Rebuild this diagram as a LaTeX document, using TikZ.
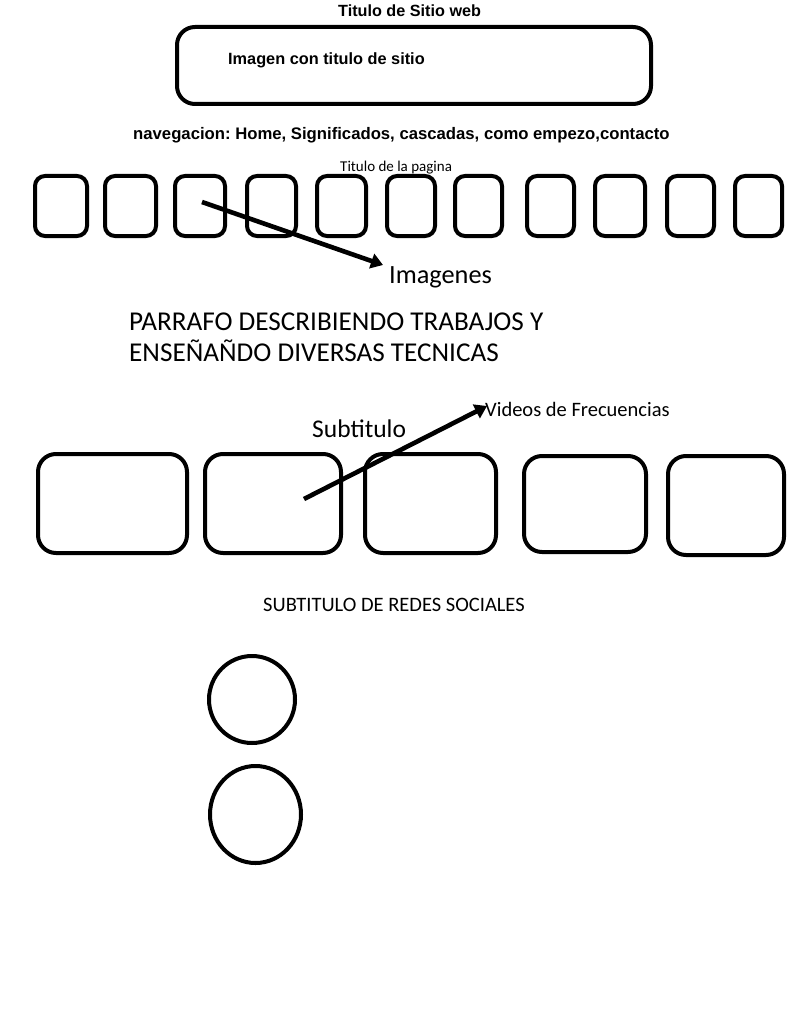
\documentclass[tikz,border=0pt]{standalone}
\usepackage{fontspec}
\setmainfont{Carlito}
\newfontfamily\arialf{Liberation Sans}
\usetikzlibrary{arrows.meta,shapes.geometric}
\tikzset{
  box/.style={draw, line width=4pt, rounded corners=#1, inner sep=0pt},
  box/.default=10pt,
  ring/.style={draw, line width=4pt, ellipse, inner sep=0pt},
  lbl/.style={anchor=base west, inner sep=0pt},
  arrowline/.style={line width=4.6pt, -{Triangle[length=12pt,width=15pt]}},
}
\newcommand{\fs}[1]{\fontsize{#1}{#1}\selectfont}
\frenchspacing
\begin{document}
\begin{tikzpicture}[x=1pt,y=-1pt]
\useasboundingbox[fill=white] (0,0) rectangle (789,1024);
% header
\node[lbl] (title) at (338,17) {\arialf\bfseries\fs{16.2}Titulo de Sitio web};
\node[box=18pt, minimum width=474pt, minimum height=77pt] (header) at (414,65.5) {};
\node[lbl] (himg) at (228,65) {\arialf\bfseries\fs{16.3}Imagen con titulo de sitio};
\node[lbl] (nav) at (133,140) {\arialf\bfseries\fs{16.7}navegacion: Home, Significados, cascadas, como empezo,contacto};
\node[lbl] (ptitle) at (340,172) {\fs{15}Titulo de la pagina};
% small boxes
\foreach \i/\cx/\w in {1/61/52, 2/130.5/51, 3/200/50, 4/271.5/49, 5/341.5/49, 6/411/48, 7/478.5/47, 8/550.5/47, 9/620/50, 10/690.5/47, 11/758.5/47}{
  \node[box=10pt, minimum width=\w pt, minimum height=60pt] (s\i) at (\cx,206) {};
}
\coordinate (a1s) at (202,202);
\coordinate (a1e) at (383,265);
\draw[arrowline] (a1s) -- (a1e);
\node[lbl] (imagenes) at (389,283) {\fs{26.3}Imagenes};
\node[lbl] (p1) at (129,330) {\fs{27.2}PARRAFO DESCRIBIENDO TRABAJOS Y};
\node[lbl] (p2) at (129,361) {\fs{27.2}ENSEÑAÑDO DIVERSAS TECNICAS};
\node[lbl] (videos) at (485,416) {\fs{20.5}Videos de Frecuencias};
\node[lbl] (subt) at (312,437) {\fs{25.5}Subtitulo};
% big boxes
\node[box=18pt, minimum width=149pt, minimum height=99pt] (b1) at (112.5,503.5) {};
\node[box=18pt, minimum width=136pt, minimum height=99pt] (b2) at (273,503.5) {};
\node[box=18pt, minimum width=131pt, minimum height=99pt] (b3) at (430.5,503.5) {};
\node[box=18pt, minimum width=122pt, minimum height=96pt] (b4) at (585,504) {};
\node[box=18pt, minimum width=116pt, minimum height=99pt] (b5) at (726,505.5) {};
\coordinate (a2s) at (304,499);
\coordinate (a2e) at (487,406);
\draw[arrowline] (a2s) -- (a2e);
\node[lbl] (redes) at (263,611) {\fs{20.5}SUBTITULO DE REDES SOCIALES};
% circles
\node[ring, minimum width=86pt, minimum height=87pt] (c1) at (252,699.5) {};
\node[ring, minimum width=91pt, minimum height=97pt] (c2) at (255.5,814.5) {};
\end{tikzpicture}
\end{document}
